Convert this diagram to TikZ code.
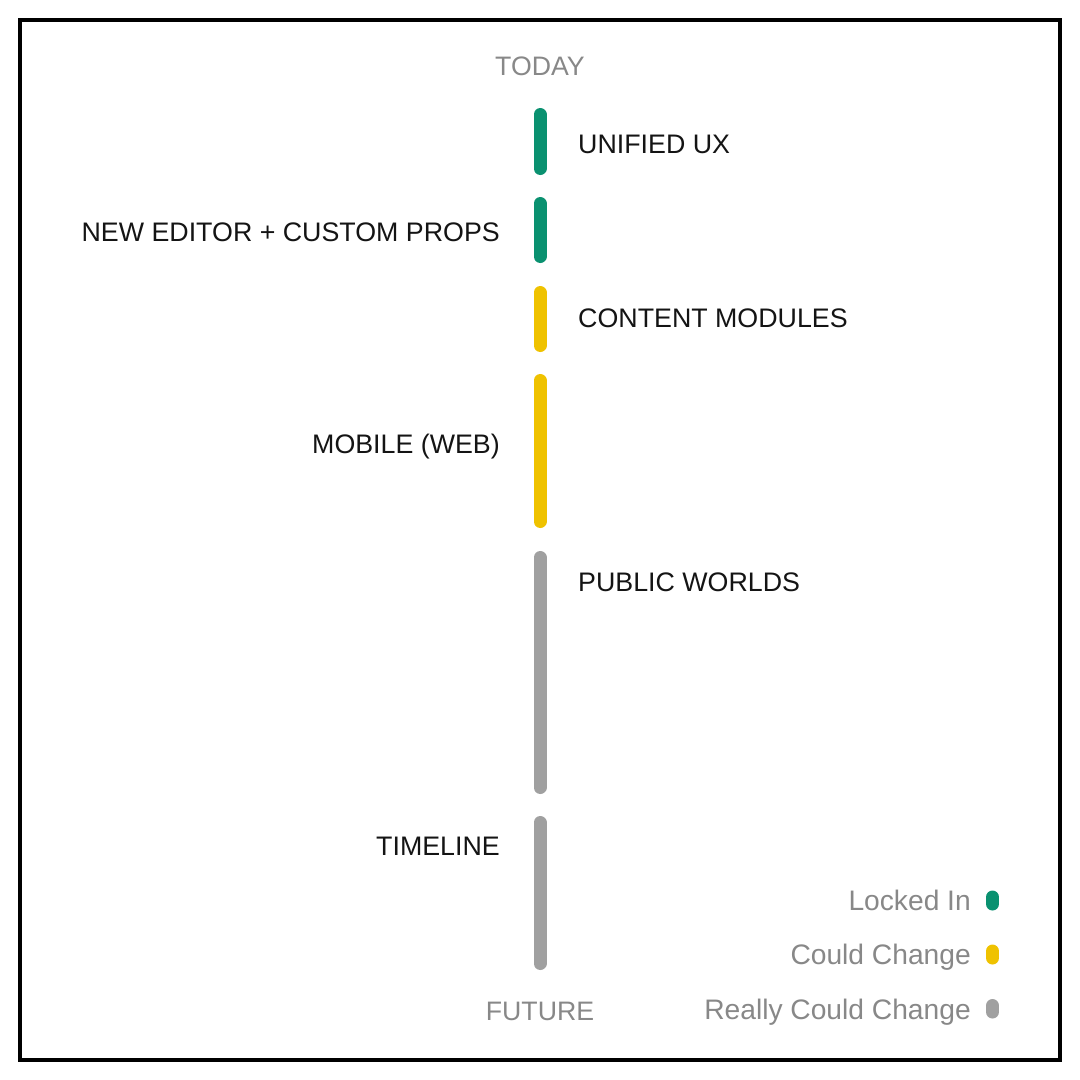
\documentclass[tikz,border=0pt]{standalone}
\usepackage{fontspec}
\setmainfont{Liberation Sans}
\usepackage{tikz}

\definecolor{lockedgreen}{HTML}{0A9170}
\definecolor{couldyellow}{HTML}{EFC200}
\definecolor{reallygray}{HTML}{A0A0A0}
\definecolor{mutedtext}{HTML}{888888}
\definecolor{darktext}{HTML}{141414}

\begin{document}
\begin{tikzpicture}[x=1pt,y=-1pt,
        bar/.style={line width=13pt, line cap=round},
        key/.style={line width=13pt, line cap=round},
        item/.style={inner sep=0pt, text=darktext, font=\fontsize{26.8}{31}\selectfont},
        edge/.style={inner sep=0pt, text=mutedtext, font=\fontsize{26.7}{31}\selectfont, anchor=base},
        keytext/.style={inner sep=0pt, text=mutedtext, font=\fontsize{28.2}{32}\selectfont, anchor=base east}]

        \useasboundingbox (0,0) rectangle (1080,1080);
        \draw[line width=4pt] (20,20) rectangle (1060,1060);

        % ends of the line
        \node[edge] (today) at (540,75) {TODAY};
        \node[edge] (future) at (540,1020) {FUTURE};

        % bars
        \coordinate (b1t) at (540,114.5);
        \coordinate (b1b) at (540,168.5);
        \coordinate (b2t) at (540,203.5);
        \coordinate (b2b) at (540,256.5);
        \coordinate (b3t) at (540,292.5);
        \coordinate (b3b) at (540,345.5);
        \coordinate (b4t) at (540,380.5);
        \coordinate (b4b) at (540,521.5);
        \coordinate (b5t) at (540,557.5);
        \coordinate (b5b) at (540,787.5);
        \coordinate (b6t) at (540,822.5);
        \coordinate (b6b) at (540,963.5);
        \draw[bar, lockedgreen] (b1t) -- (b1b);
        \draw[bar, lockedgreen] (b2t) -- (b2b);
        \draw[bar, couldyellow] (b3t) -- (b3b);
        \draw[bar, couldyellow] (b4t) -- (b4b);
        \draw[bar, reallygray] (b5t) -- (b5b);
        \draw[bar, reallygray] (b6t) -- (b6b);

        % labels
        \node[item, anchor=base west] (unified) at (578,153) {UNIFIED UX};
        \node[item, anchor=base east] (editor) at (500,241) {NEW EDITOR + CUSTOM PROPS};
        \node[item, anchor=base west] (modules) at (578,327) {CONTENT MODULES};
        \node[item, anchor=base east] (mobile) at (500,453) {MOBILE (WEB)};
        \node[item, anchor=base west] (worlds) at (578,591) {PUBLIC WORLDS};
        \node[item, anchor=base east] (timeline) at (500,855) {TIMELINE};

        % legend
        \node[keytext] (locked) at (971,910) {Locked In};
        \node[keytext] (could) at (971,964) {Could Change};
        \node[keytext] (really) at (971,1019) {Really Could Change};
        \coordinate (k1t) at (992.5,897);
        \coordinate (k1b) at (992.5,904);
        \coordinate (k2t) at (992.5,951);
        \coordinate (k2b) at (992.5,958);
        \coordinate (k3t) at (992.5,1005.5);
        \coordinate (k3b) at (992.5,1012);
        \draw[key, lockedgreen] (k1t) -- (k1b);
        \draw[key, couldyellow] (k2t) -- (k2b);
        \draw[key, reallygray] (k3t) -- (k3b);

    \end{tikzpicture}
\end{document}
